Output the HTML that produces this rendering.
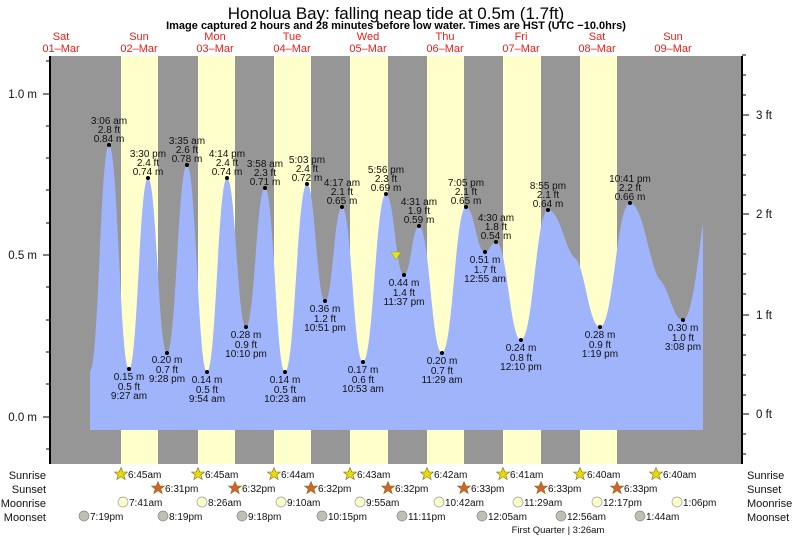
<!DOCTYPE html>
<html><head><meta charset="utf-8"><style>
html,body{margin:0;padding:0;background:#fff}
svg{display:block;font-family:"Liberation Sans",sans-serif}
</style></head><body>
<svg width="793" height="537" viewBox="0 0 793 537" xmlns="http://www.w3.org/2000/svg">
<text x="396" y="19" font-size="17" text-anchor="middle" fill="#000">Honolua Bay: falling  neap tide at 0.5m (1.7ft)</text>
<text x="396" y="29" font-size="11" font-weight="bold" text-anchor="middle">Image captured 2 hours and 28 minutes before low water. Times are HST (UTC −10.0hrs)</text>
<g font-size="11" fill="#e8201a" text-anchor="middle">
<text x="61" y="40">Sat</text><text x="61" y="52">01–Mar</text>
<text x="139" y="40">Sun</text><text x="139" y="52">02–Mar</text>
<text x="215" y="40">Mon</text><text x="215" y="52">03–Mar</text>
<text x="292" y="40">Tue</text><text x="292" y="52">04–Mar</text>
<text x="368" y="40">Wed</text><text x="368" y="52">05–Mar</text>
<text x="445" y="40">Thu</text><text x="445" y="52">06–Mar</text>
<text x="521" y="40">Fri</text><text x="521" y="52">07–Mar</text>
<text x="597" y="40">Sat</text><text x="597" y="52">08–Mar</text>
<text x="673" y="40">Sun</text><text x="673" y="52">09–Mar</text>
</g>
<rect x="50" y="56" width="692" height="408" fill="#969696"/>
<g fill="#ffffcc">
<rect x="121" y="56" width="37" height="408"/><rect x="198" y="56" width="37" height="408"/>
<rect x="274" y="56" width="37" height="408"/><rect x="350" y="56" width="38" height="408"/>
<rect x="427" y="56" width="37" height="408"/><rect x="503" y="56" width="38" height="408"/>
<rect x="580" y="56" width="37" height="408"/>
</g>
<path fill="#a0b4fc" d="M90,430 L90,371 C98.6,371 100.4,145 109,145 C118,145 120,369 129,369 C137.6,369 139.4,178 148,178 C156.6,178 158.4,353 167,353 C176,353 178,165 187,165 C196,165 198,372 207,372 C216,372 218,178 227,178 C235.6,178 237.4,327 246,327 C254.6,327 256.4,188 265,188 C274,188 276,372 285,372 C294.9,372 297.1,184 307,184 C315.1,184 316.9,301 325,301 C332.7,301 334.3,207 342,207 C351.5,207 353.5,362 363,362 C373.4,362 375.6,194 386,194 C394.1,194 395.9,275 404,275 C410.8,275 412.2,226 419,226 C429.4,226 431.6,353 442,353 C452.8,353 455.2,207 466,207 C474.6,207 476.4,252 485,252 C490,252 491,242 496,242 C507.3,242 509.8,340 521,340 C533.2,340 535.9,210 548,210 C560,210 565,250 575,258 C585,266 589,327 600,327 C613.5,327 616.5,203 630,203 C643.5,203 650,270 660,280 C670,290 673,320 683,320 C692,320 698,260 703,222 L703,430 Z"/>
<g fill="#000">
<circle cx="109" cy="145" r="2"/><circle cx="129" cy="369" r="2"/><circle cx="148" cy="178" r="2"/><circle cx="167" cy="353" r="2"/><circle cx="187" cy="165" r="2"/><circle cx="207" cy="372" r="2"/><circle cx="227" cy="178" r="2"/><circle cx="246" cy="327" r="2"/><circle cx="265" cy="188" r="2"/><circle cx="285" cy="372" r="2"/><circle cx="307" cy="184" r="2"/><circle cx="325" cy="301" r="2"/><circle cx="342" cy="207" r="2"/><circle cx="363" cy="362" r="2"/><circle cx="386" cy="194" r="2"/><circle cx="404" cy="275" r="2"/><circle cx="419" cy="226" r="2"/><circle cx="442" cy="353" r="2"/><circle cx="466" cy="207" r="2"/><circle cx="485" cy="252" r="2"/><circle cx="496" cy="242" r="2"/><circle cx="521" cy="340" r="2"/><circle cx="548" cy="210" r="2"/><circle cx="600" cy="327" r="2"/><circle cx="630" cy="203" r="2"/><circle cx="683" cy="320" r="2"/>
</g>
<polygon points="391,252 401,252 396,260" fill="#e8e800" stroke="#888" stroke-width="0.5"/>
<g font-size="10" text-anchor="middle" fill="#111">
<text x="109" y="124">3:06 am</text><text x="109" y="133">2.8 ft</text><text x="109" y="142">0.84 m</text>
<text x="148" y="157">3:30 pm</text><text x="148" y="166">2.4 ft</text><text x="148" y="175">0.74 m</text>
<text x="187" y="144">3:35 am</text><text x="187" y="153">2.6 ft</text><text x="187" y="162">0.78 m</text>
<text x="227" y="157">4:14 pm</text><text x="227" y="166">2.4 ft</text><text x="227" y="175">0.74 m</text>
<text x="265" y="167">3:58 am</text><text x="265" y="176">2.3 ft</text><text x="265" y="185">0.71 m</text>
<text x="307" y="163">5:03 pm</text><text x="307" y="172">2.4 ft</text><text x="307" y="181">0.72 m</text>
<text x="342" y="186">4:17 am</text><text x="342" y="195">2.1 ft</text><text x="342" y="204">0.65 m</text>
<text x="386" y="173">5:56 pm</text><text x="386" y="182">2.3 ft</text><text x="386" y="191">0.69 m</text>
<text x="419" y="205">4:31 am</text><text x="419" y="214">1.9 ft</text><text x="419" y="223">0.59 m</text>
<text x="466" y="186">7:05 pm</text><text x="466" y="195">2.1 ft</text><text x="466" y="204">0.65 m</text>
<text x="496" y="221">4:30 am</text><text x="496" y="230">1.8 ft</text><text x="496" y="239">0.54 m</text>
<text x="548" y="189">8:55 pm</text><text x="548" y="198">2.1 ft</text><text x="548" y="207">0.64 m</text>
<text x="630" y="182">10:41 pm</text><text x="630" y="191">2.2 ft</text><text x="630" y="200">0.66 m</text>
<text x="129" y="380">0.15 m</text><text x="129" y="390">0.5 ft</text><text x="129" y="399">9:27 am</text>
<text x="167" y="363">0.20 m</text><text x="167" y="373">0.7 ft</text><text x="167" y="382">9:28 pm</text>
<text x="207" y="383">0.14 m</text><text x="207" y="393">0.5 ft</text><text x="207" y="402">9:54 am</text>
<text x="246" y="338">0.28 m</text><text x="246" y="348">0.9 ft</text><text x="246" y="357">10:10 pm</text>
<text x="285" y="383">0.14 m</text><text x="285" y="393">0.5 ft</text><text x="285" y="402">10:23 am</text>
<text x="325" y="312">0.36 m</text><text x="325" y="322">1.2 ft</text><text x="325" y="331">10:51 pm</text>
<text x="363" y="373">0.17 m</text><text x="363" y="383">0.6 ft</text><text x="363" y="392">10:53 am</text>
<text x="404" y="286">0.44 m</text><text x="404" y="296">1.4 ft</text><text x="404" y="305">11:37 pm</text>
<text x="442" y="364">0.20 m</text><text x="442" y="374">0.7 ft</text><text x="442" y="383">11:29 am</text>
<text x="485" y="263">0.51 m</text><text x="485" y="273">1.7 ft</text><text x="485" y="282">12:55 am</text>
<text x="521" y="351">0.24 m</text><text x="521" y="361">0.8 ft</text><text x="521" y="370">12:10 pm</text>
<text x="600" y="338">0.28 m</text><text x="600" y="348">0.9 ft</text><text x="600" y="357">1:19 pm</text>
<text x="683" y="331">0.30 m</text><text x="683" y="341">1.0 ft</text><text x="683" y="350">3:08 pm</text>
</g>
<g stroke="#000" stroke-width="1">
<line x1="50" y1="56" x2="50" y2="464" stroke-width="2"/>
<line x1="742" y1="56" x2="742" y2="464" stroke-width="2"/>
<line x1="43" y1="94" x2="50" y2="94"/><line x1="43" y1="255" x2="50" y2="255"/><line x1="43" y1="417" x2="50" y2="417"/>
<line x1="46" y1="61" x2="50" y2="61"/><line x1="46" y1="126" x2="50" y2="126"/><line x1="46" y1="158" x2="50" y2="158"/><line x1="46" y1="190" x2="50" y2="190"/><line x1="46" y1="223" x2="50" y2="223"/><line x1="46" y1="287" x2="50" y2="287"/><line x1="46" y1="320" x2="50" y2="320"/><line x1="46" y1="352" x2="50" y2="352"/><line x1="46" y1="384" x2="50" y2="384"/><line x1="46" y1="449" x2="50" y2="449"/>
<line x1="742" y1="115" x2="749" y2="115"/><line x1="742" y1="214" x2="749" y2="214"/><line x1="742" y1="315" x2="749" y2="315"/><line x1="742" y1="414" x2="749" y2="414"/>
<line x1="742" y1="55" x2="746" y2="55"/><line x1="742" y1="75" x2="746" y2="75"/><line x1="742" y1="95" x2="746" y2="95"/><line x1="742" y1="135" x2="746" y2="135"/><line x1="742" y1="155" x2="746" y2="155"/><line x1="742" y1="175" x2="746" y2="175"/><line x1="742" y1="195" x2="746" y2="195"/><line x1="742" y1="234" x2="746" y2="234"/><line x1="742" y1="254" x2="746" y2="254"/><line x1="742" y1="274" x2="746" y2="274"/><line x1="742" y1="294" x2="746" y2="294"/><line x1="742" y1="335" x2="746" y2="335"/><line x1="742" y1="355" x2="746" y2="355"/><line x1="742" y1="375" x2="746" y2="375"/><line x1="742" y1="395" x2="746" y2="395"/><line x1="742" y1="434" x2="746" y2="434"/><line x1="742" y1="454" x2="746" y2="454"/>
</g>
<g font-size="11.5" fill="#111">
<text x="37" y="98" text-anchor="end">1.0 m</text><text x="37" y="259" text-anchor="end">0.5 m</text><text x="37" y="421" text-anchor="end">0.0 m</text>
<text x="756" y="119">3 ft</text><text x="756" y="218">2 ft</text><text x="756" y="319">1 ft</text><text x="756" y="418">0 ft</text>
</g>
<g font-size="11" fill="#111">
<text x="46" y="479" text-anchor="end">Sunrise</text><text x="46" y="493" text-anchor="end">Sunset</text><text x="46" y="507" text-anchor="end">Moonrise</text><text x="46" y="521" text-anchor="end">Moonset</text>
<text x="747" y="479">Sunrise</text><text x="747" y="493">Sunset</text><text x="747" y="507">Moonrise</text><text x="747" y="521">Moonset</text>
</g>
<defs>
<polygon id="st" points="0,-6.5 1.9,-2 6.5,-2 2.8,1 4.2,5.5 0,2.8 -4.2,5.5 -2.8,1 -6.5,-2 -1.9,-2" stroke="#8a6a20" stroke-width="0.6"/>
</defs>
<g fill="#e6dc00">
<use href="#st" x="121" y="474"/><use href="#st" x="198" y="474"/><use href="#st" x="274" y="474"/><use href="#st" x="350" y="474"/><use href="#st" x="427" y="474"/><use href="#st" x="503" y="474"/><use href="#st" x="580" y="474"/><use href="#st" x="656" y="474"/>
</g>
<g fill="#d0642a">
<use href="#st" x="158" y="488"/><use href="#st" x="235" y="488"/><use href="#st" x="311" y="488"/><use href="#st" x="388" y="488"/><use href="#st" x="464" y="488"/><use href="#st" x="541" y="488"/><use href="#st" x="617" y="488"/>
</g>
<g fill="#ffffcc" stroke="#999" stroke-width="0.7">
<circle cx="123" cy="502" r="5"/><circle cx="202" cy="502" r="5"/><circle cx="281" cy="502" r="5"/><circle cx="360" cy="502" r="5"/><circle cx="439" cy="502" r="5"/><circle cx="518" cy="502" r="5"/><circle cx="597" cy="502" r="5"/><circle cx="677" cy="502" r="5"/>
</g>
<g fill="#c0c0b0" stroke="#888" stroke-width="0.7">
<circle cx="84" cy="516" r="5"/><circle cx="163" cy="516" r="5"/><circle cx="242" cy="516" r="5"/><circle cx="322" cy="516" r="5"/><circle cx="402" cy="516" r="5"/><circle cx="482" cy="516" r="5"/><circle cx="561" cy="516" r="5"/><circle cx="640" cy="516" r="5"/>
</g>
<g font-size="10" fill="#111">
<text x="128" y="478">6:45am</text><text x="205" y="478">6:45am</text><text x="281" y="478">6:44am</text><text x="357" y="478">6:43am</text><text x="434" y="478">6:42am</text><text x="510" y="478">6:41am</text><text x="587" y="478">6:40am</text><text x="663" y="478">6:40am</text>
<text x="165" y="492">6:31pm</text><text x="242" y="492">6:32pm</text><text x="318" y="492">6:32pm</text><text x="395" y="492">6:32pm</text><text x="471" y="492">6:33pm</text><text x="548" y="492">6:33pm</text><text x="624" y="492">6:33pm</text>
<text x="129" y="506">7:41am</text><text x="208" y="506">8:26am</text><text x="287" y="506">9:10am</text><text x="366" y="506">9:55am</text><text x="445" y="506">10:42am</text><text x="524" y="506">11:29am</text><text x="603" y="506">12:17pm</text><text x="683" y="506">1:06pm</text>
<text x="90" y="520">7:19pm</text><text x="169" y="520">8:19pm</text><text x="248" y="520">9:18pm</text><text x="328" y="520">10:15pm</text><text x="408" y="520">11:11pm</text><text x="488" y="520">12:05am</text><text x="567" y="520">12:56am</text><text x="646" y="520">1:44am</text>
<text x="558" y="533" font-size="9.5" text-anchor="middle">First Quarter | 3:26am</text>
</g>
</svg>
</body></html>
